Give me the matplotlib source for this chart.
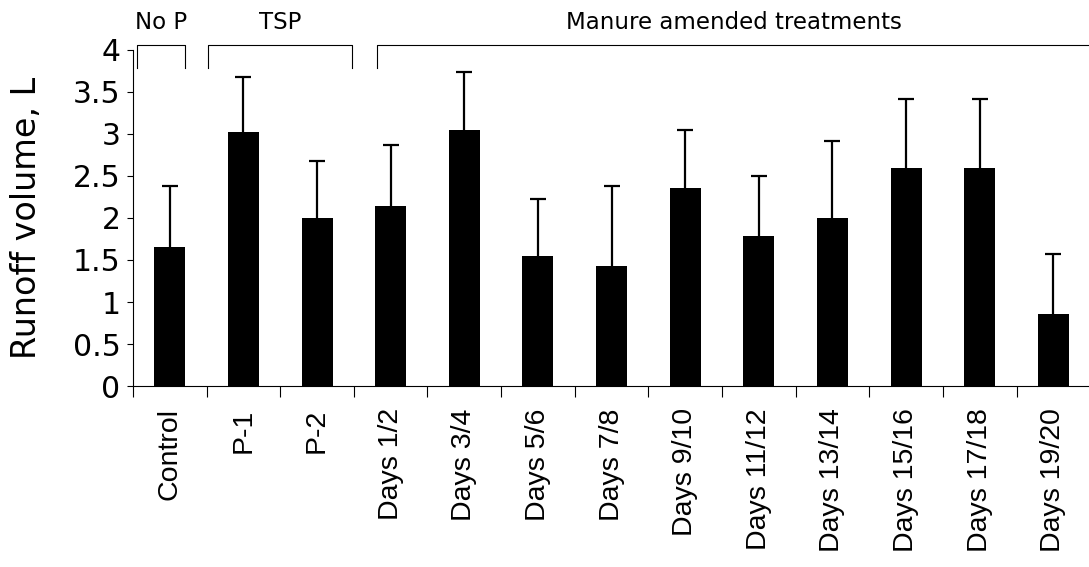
import matplotlib.pyplot as plt
import numpy as np

# Runoff volume per treatment (mean and upper error)
treatments = ["Control", "P-1", "P-2", "Days 1/2", "Days 3/4", "Days 5/6",
              "Days 7/8", "Days 9/10", "Days 11/12", "Days 13/14",
              "Days 15/16", "Days 17/18", "Days 19/20"]
runoff = [1.65, 3.02, 2.00, 2.14, 3.05, 1.55, 1.43, 2.36, 1.79, 2.00, 2.59, 2.59, 0.86]
runoff_err = [0.73, 0.66, 0.68, 0.73, 0.68, 0.68, 0.95, 0.68, 0.71, 0.92, 0.83, 0.83, 0.71]

# Group brackets: label, first x, last x (in category units)
groups = ["No P", "TSP", "Manure amended treatments"]
group_start = [-0.45, 0.52, 2.81]
group_end = [0.20, 2.48, 12.52]

fig = plt.figure(figsize=(10.89, 5.67), dpi=100)
ax = fig.add_axes([0.1221, 0.319, 0.8790, 0.5933])

x = np.arange(len(treatments))
vals = np.array(runoff)
errs = np.array(runoff_err)
ax.bar(x, vals, width=0.42, color="black", zorder=2)
# upper-only error bars: stem plus a cap at the top
ax.vlines(x, vals, vals + errs, color="black", lw=1.6, zorder=3)
ax.plot(x, vals + errs, ls="none", marker="_", ms=12, mew=1.6, color="black", zorder=3)

ax.set_xlim(-0.5, len(treatments) - 0.5)
ax.set_ylim(0, 4)
ax.set_yticks(np.arange(0, 4.01, 0.5))
ax.set_yticklabels(["0", "0.5", "1", "1.5", "2", "2.5", "3", "3.5", "4"],
                   fontsize=21.5, family="DejaVu Sans")
ax.set_xticks(x)
ax.set_xticklabels(treatments, rotation=90, fontsize=20.5, family="Liberation Sans")
ax.set_xticks(np.arange(-0.5, len(treatments), 1.0), minor=True)
ax.tick_params(axis="x", which="major", length=0, pad=16)
ax.tick_params(axis="x", which="minor", length=8, width=0.8, direction="out")
ax.tick_params(axis="y", length=4, width=0.8, direction="out", pad=5)

for side in ["top", "right"]:
    ax.spines[side].set_visible(False)
for side in ["left", "bottom"]:
    ax.spines[side].set_linewidth(0.8)

fig.text(27 / 1089, 1 - 218 / 567, "Runoff volume, L", rotation=90, ha="center",
         va="center", fontsize=24, family="DejaVu Sans")

# Brackets above the plot
top, foot = 4.06, 3.78
for label, x0, x1 in zip(groups, group_start, group_end):
    ax.plot([x0, x0, x1, x1], [foot, top, top, foot], color="black",
            lw=0.8, clip_on=False)
    xc = (x0 + min(x1, 12.5)) / 2
    ax.text(xc, 4.32, label, ha="center", va="center", fontsize=16.5,
            family="DejaVu Sans", clip_on=False)

fig.savefig("out.png", dpi=100)
